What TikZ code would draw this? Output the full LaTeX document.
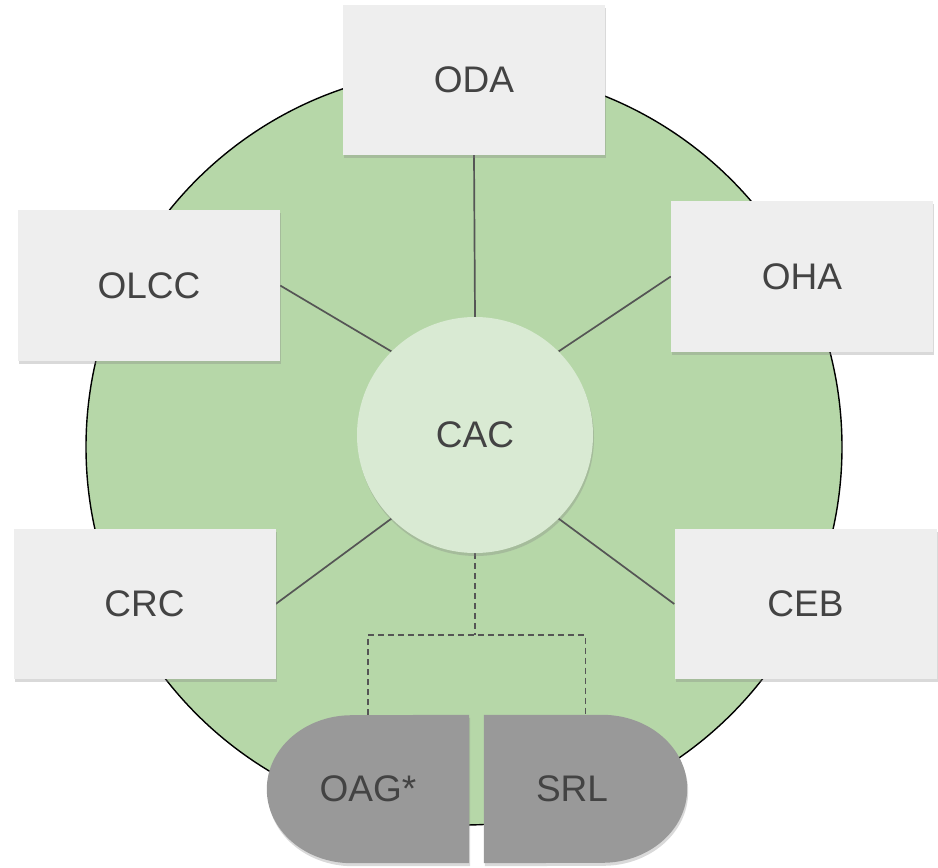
\documentclass[tikz,border=0pt]{standalone}
\usepackage{fontspec}
\setmainfont{Liberation Sans}
\usetikzlibrary{shadows}
\pgfdeclarelayer{bottom}
\pgfdeclarelayer{links}
\pgfsetlayers{bottom,links,main}
\definecolor{biggreen}{HTML}{B6D7A8}
\definecolor{cacgreen}{HTML}{D9EAD3}
\definecolor{boxgray}{HTML}{EEEEEE}
\definecolor{pillgray}{HTML}{999999}
\definecolor{txtgray}{HTML}{434343}
\definecolor{linegray}{HTML}{555555}
\begin{document}
\begin{tikzpicture}[x=1pt,y=-1pt,
  lbl/.style={font=\fontsize{37}{40}\selectfont, text=txtgray},
  softshadow/.style={drop shadow={shadow xshift=1pt, shadow yshift=-3pt, opacity=0.3}},
  sidebox/.style={lbl, fill=boxgray, minimum width=262pt, minimum height=150pt, inner sep=0pt, softshadow},
  spoke/.style={draw=linegray, line width=1.7pt},
  dashlink/.style={draw=linegray, line width=1.7pt, dash pattern=on 6pt off 4pt},
  pill/.style={fill=pillgray, softshadow}]
\useasboundingbox (0,0) rectangle (938,868);
% big circle
\begin{pgfonlayer}{bottom}
\draw[fill=biggreen, line width=1.4pt] (464,447) circle[radius=378pt];
\end{pgfonlayer}
% central node
\node[lbl, circle, fill=cacgreen, minimum size=236pt, inner sep=0pt, softshadow] (cac) at (475,435) {CAC};
% side boxes
\node[sidebox] (oda) at (474,80) {ODA};
\node[sidebox, minimum height=151pt] (olcc) at (149,285.5) {OLCC};
\node[sidebox, minimum height=151pt] (oha) at (802,276.5) {OHA};
\node[sidebox] (crc) at (144.5,604) {CRC};
\node[sidebox] (ceb) at (805.5,604) {CEB};
% bottom pill halves
\node[minimum width=202pt, minimum height=148pt, inner sep=0pt] (oag) at (368,789) {};
\node[minimum width=203pt, minimum height=148pt, inner sep=0pt] (srl) at (585.5,789) {};
\path[pill] (oag.north east) -- (oag.south east) -- ([xshift=85pt]oag.south west)
  arc[start angle=270, end angle=90, x radius=85pt, y radius=74pt] -- cycle;
\path[pill] (srl.north west) -- ([xshift=-85pt]srl.north east)
  arc[start angle=90, end angle=-90, x radius=85pt, y radius=74pt] -- (srl.south west) -- cycle;
\node[lbl] (oagtext) at (oag.center) {OAG*};
\node[lbl] (srltext) at (572,789) {SRL};
% connectors
\coordinate (j) at (475,635);
\begin{pgfonlayer}{links}
\draw[spoke] (cac.north) -- (oda.south);
\draw[spoke] (cac.135) -- (olcc.east);
\draw[spoke] (cac.45) -- (oha.west);
\draw[spoke] (cac.225) -- (crc.east);
\draw[spoke] (cac.-45) -- (ceb.west);
\draw[dashlink] (cac.south) -- (j);
\draw[dashlink] (oag.north) |- (j) -| (srl.north);
\end{pgfonlayer}
\end{tikzpicture}
\end{document}
